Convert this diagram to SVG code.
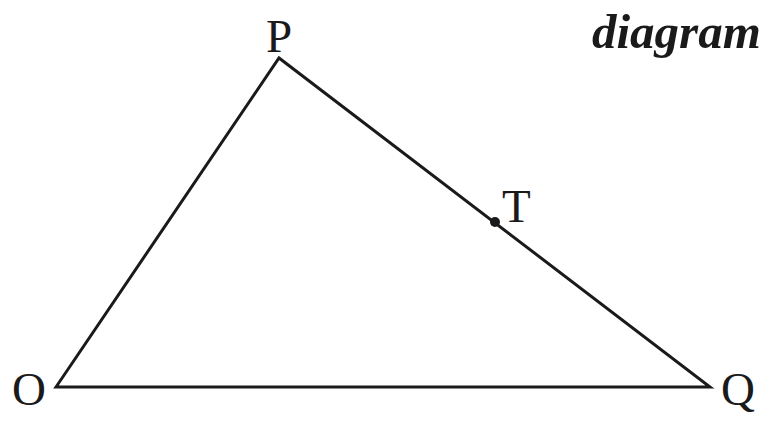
<svg xmlns="http://www.w3.org/2000/svg" width="769" height="424" viewBox="0 0 769 424">
<style>
.lbl{font-family:"Liberation Serif",serif;font-size:47px;fill:#1a1a1a}
.edge{stroke:#1a1a1a;stroke-width:3;fill:none;stroke-linejoin:miter}
</style>
<rect width="769" height="424" fill="#fff"/>
<g id="connectors">
<polygon class="edge" points="56,387 279,58 710,387"/>
</g>
<g id="node-T">
<circle cx="495" cy="222" r="5" fill="#1a1a1a"/>
<text class="lbl" x="502" y="222">T</text>
</g>
<g id="node-P"><text class="lbl" x="266" y="52">P</text></g>
<g id="node-O"><text class="lbl" x="12" y="405">O</text></g>
<g id="node-Q"><text class="lbl" x="721" y="405">Q</text></g>
<g id="title"><text x="592" y="48" style="font-family:'Liberation Serif',serif;font-size:49px;font-weight:bold;font-style:italic;fill:#1a1a1a">diagram</text></g>
</svg>
